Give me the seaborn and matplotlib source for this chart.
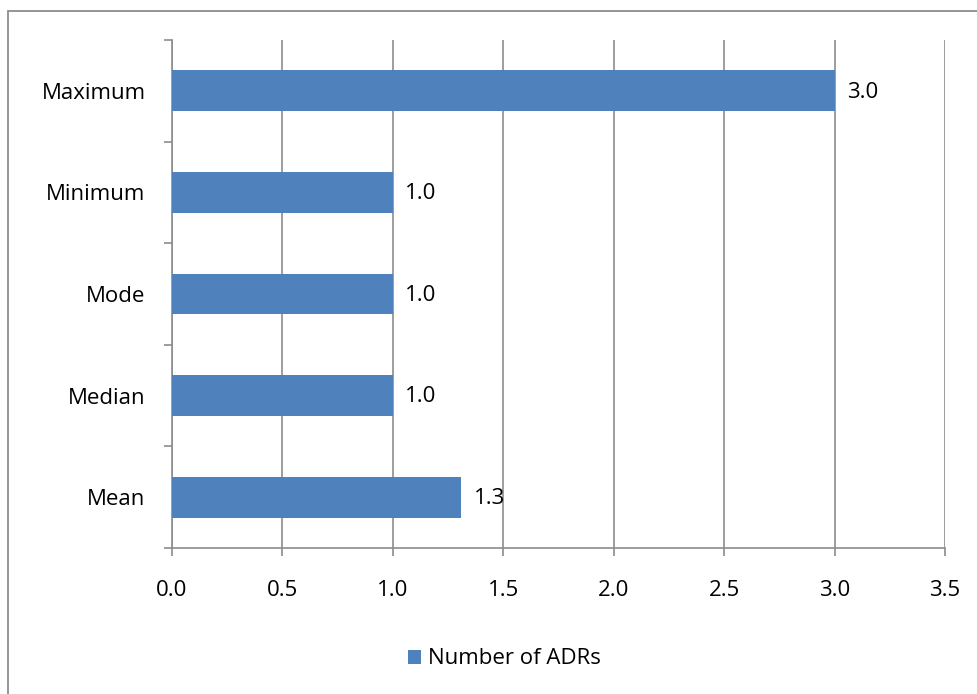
import matplotlib
matplotlib.use("Agg")
import matplotlib.pyplot as plt
import seaborn as sns
import pandas as pd
from matplotlib.patches import Rectangle, Patch

# data
stats_names = ["Maximum", "Minimum", "Mode", "Median", "Mean"]
adr_values = [3.0, 1.0, 1.0, 1.0, 1.31]
value_labels = ["3.0", "1.0", "1.0", "1.0", "1.3"]
x_ticks = [0.0, 0.5, 1.0, 1.5, 2.0, 2.5, 3.0, 3.5]

df = pd.DataFrame({"Statistic": stats_names, "Number of ADRs": adr_values})

sns.set_style("white")
plt.rcParams['font.family'] = ['Open Sans', 'DejaVu Sans']
plt.rcParams['text.color'] = 'black'
plt.rcParams['xtick.color'] = 'black'
plt.rcParams['ytick.color'] = 'black'

bar_color = "#4F81BD"
grid_color = "#8C8C8C"
fs = 16

fig = plt.figure(figsize=(9.77, 6.94), dpi=100)
ax = fig.add_axes([172/977, 1 - 548/694, (945 - 172)/977, (548 - 40)/694])

sns.barplot(data=df, y="Statistic", x="Number of ADRs", orient="h",
            color=bar_color, width=0.4, saturation=1, linewidth=0, ax=ax, zorder=3)

ax.set_xlim(0, 3.5)
ax.set_ylim(4.5, -0.5)
ax.set_xticks(x_ticks)
ax.set_xticklabels([f"{t:.1f}" for t in x_ticks])
ax.xaxis.grid(True, color=grid_color, linewidth=1.2, zorder=0)
ax.set_axisbelow(True)
ax.set_xlabel("")
ax.set_ylabel("")

# category boundary ticks on the y axis
ax.set_yticks([i - 0.5 for i in range(6)], minor=True)
ax.tick_params(axis="y", which="major", length=0, pad=19, labelsize=fs)
ax.tick_params(axis="y", which="minor", length=6, width=1.2, color=grid_color, direction="out", left=True)
ax.tick_params(axis="x", which="major", length=6, width=1.2, color=grid_color, direction="out", bottom=True, pad=17, labelsize=fs)

for s in ["top", "right"]:
    ax.spines[s].set_visible(False)
for s in ["left", "bottom"]:
    ax.spines[s].set_color(grid_color)
    ax.spines[s].set_linewidth(1.2)

for i, (v, lab) in enumerate(zip(adr_values, value_labels)):
    ax.annotate(lab, xy=(v, i), xytext=(9, -1), textcoords="offset points",
                va="center", ha="left", fontsize=fs)

handles = [Patch(facecolor=bar_color, edgecolor="none", label="Number of ADRs")]
fig.legend(handles=handles, loc="center", bbox_to_anchor=(504/977, 1 - 659/694),
           frameon=False, fontsize=fs, handlelength=0.6, handleheight=0.6, handletextpad=0.3)

# chart area border
fig.patches.append(Rectangle((8/977, -0.1), 1.2, 1 - 11/694 + 0.1, transform=fig.transFigure,
                             fill=False, edgecolor="#8C8C8C", linewidth=1.3))

fig.savefig("out.png", dpi=100)
